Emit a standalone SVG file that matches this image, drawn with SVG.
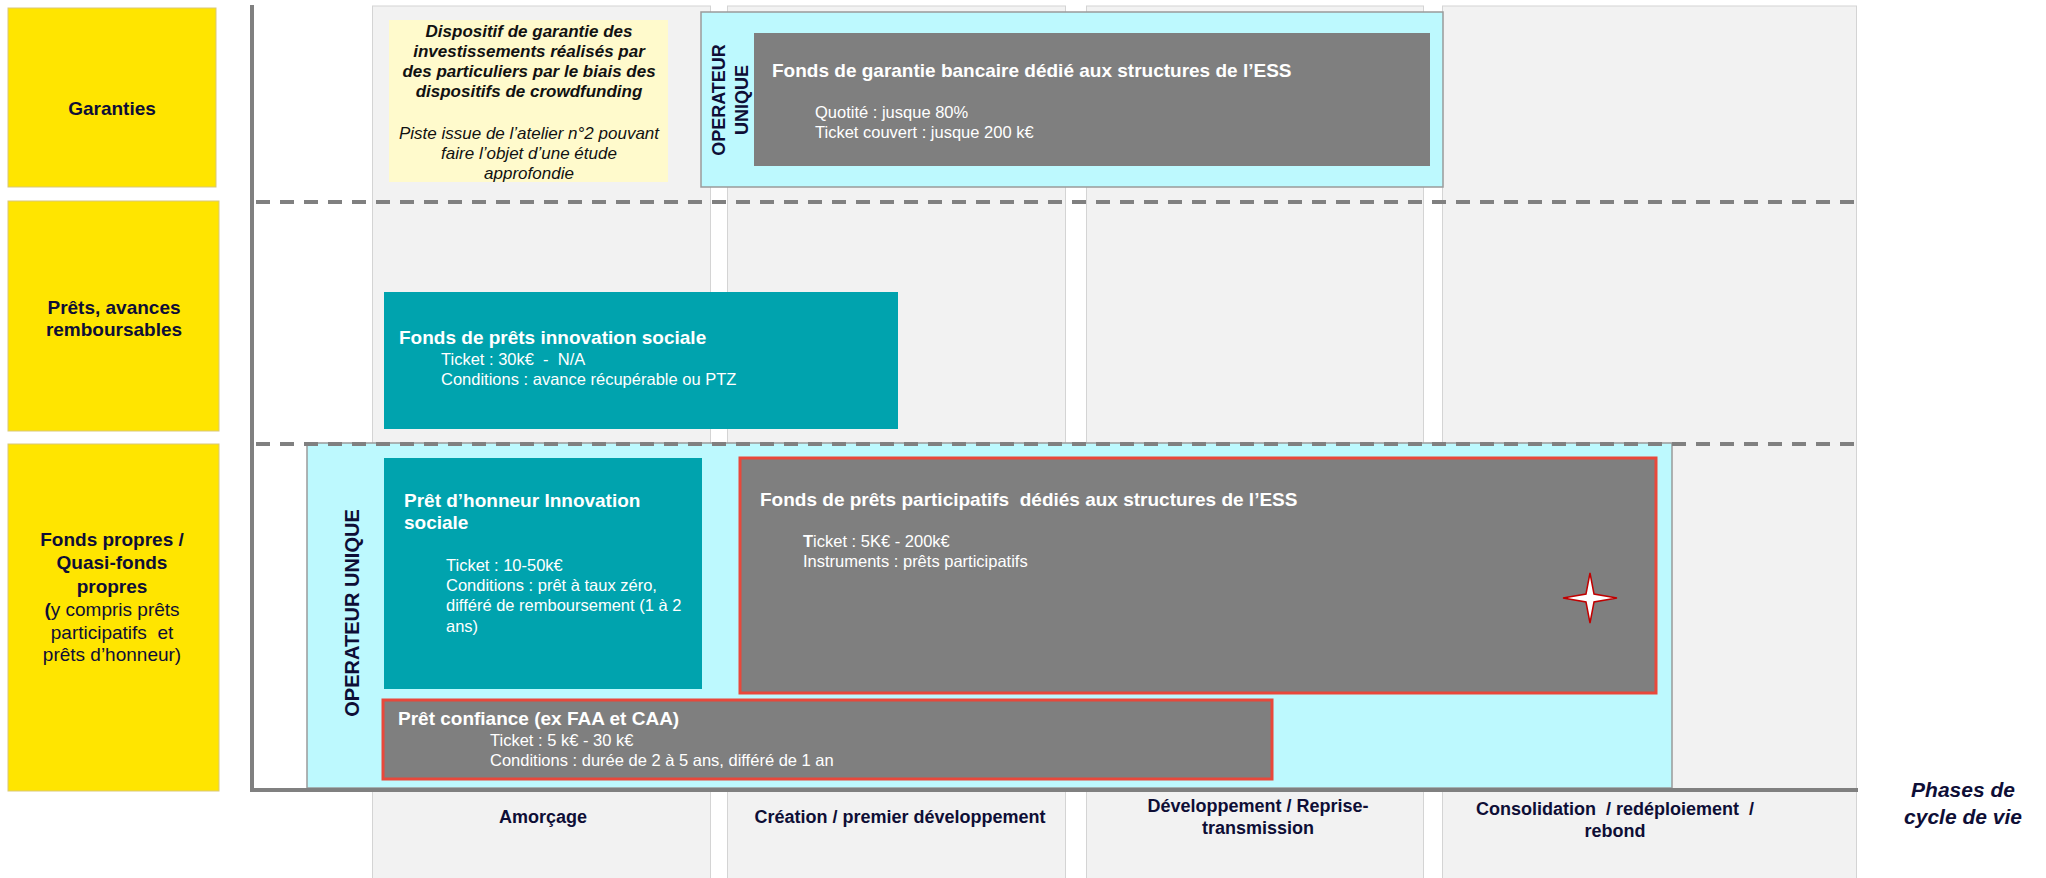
<svg xmlns="http://www.w3.org/2000/svg" width="2046" height="878" viewBox="0 0 2046 878">
<style>
text{font-family:"Liberation Sans",Arial,sans-serif}
.pre{white-space:pre}
.col{fill:#F2F2F2;stroke:#D4D4D4;stroke-width:1}
.cat{fill:#FFE500;stroke:#D9C77A;stroke-width:1}
.catt{font-size:19px;font-weight:bold;fill:#0E0E36;text-anchor:middle}
.catr{font-size:19px;fill:#0E0E36;text-anchor:middle}
.phase{font-size:18px;font-weight:bold;fill:#0E0E36;text-anchor:middle}
.cyan{fill:#BDF9FE;stroke:#9A9A9A;stroke-width:1.5}
.grey{fill:#7F7F7F}
.greyred{fill:#7F7F7F;stroke:#E8483B;stroke-width:3}
.teal{fill:#00A3AE}
.ttl{font-size:19px;font-weight:bold;fill:#FFFFFF}
.body{font-size:16.5px;fill:#FFFFFF}
.op{font-weight:bold;fill:#0E0E36;text-anchor:middle}
.note{fill:#FFFACC}
.nb{font-size:17px;font-weight:bold;font-style:italic;fill:#111111;text-anchor:middle}
.ni{font-size:17px;font-style:italic;fill:#111111;text-anchor:middle}
.dash{stroke:#808080;stroke-width:4;stroke-dasharray:14 10;fill:none}
.axis{stroke:#808080;stroke-width:4;fill:none}
</style>

<g id="columns">
  <rect class="col" x="372.5" y="6" width="338" height="880"/>
  <rect class="col" x="727.5" y="6" width="338" height="880"/>
  <rect class="col" x="1086.5" y="6" width="337" height="880"/>
  <rect class="col" x="1442.5" y="6" width="414" height="880"/>
</g>

<g id="cat-garanties">
  <rect class="cat" x="8" y="8" width="208" height="179"/>
  <text class="catt" x="112" y="115">Garanties</text>
</g>
<g id="cat-prets">
  <rect class="cat" x="8" y="201" width="211" height="230"/>
  <text class="catt" x="114" y="314">Prêts, avances</text>
  <text class="catt" x="114" y="336">remboursables</text>
</g>
<g id="cat-fonds-propres">
  <rect class="cat" x="8" y="444" width="211" height="347"/>
  <text class="catt" x="112" y="546">Fonds propres /</text>
  <text class="catt" x="112" y="569">Quasi-fonds</text>
  <text class="catt" x="112" y="593">propres</text>
  <text class="catr" x="112" y="616"><tspan font-weight="bold">(</tspan>y compris prêts</text>
  <text class="catr pre" x="112" y="639" xml:space="preserve">participatifs  et</text>
  <text class="catr" x="112" y="661">prêts d’honneur)</text>
</g>

<g id="note-crowdfunding">
  <rect class="note" x="389" y="20" width="279" height="162"/>
  <text class="nb" x="529" y="37">Dispositif de garantie des</text>
  <text class="nb" x="529" y="57">investissements réalisés par</text>
  <text class="nb" x="529" y="77">des particuliers par le biais des</text>
  <text class="nb" x="529" y="97">dispositifs de crowdfunding</text>
  <text class="ni" x="529" y="139">Piste issue de l’atelier n°2 pouvant</text>
  <text class="ni" x="529" y="159">faire l’objet d’une étude</text>
  <text class="ni" x="529" y="179">approfondie</text>
</g>

<g id="operateur-garantie">
  <rect class="cyan" x="701" y="12" width="742" height="175"/>
  <text class="op" font-size="18" transform="translate(725,100) rotate(-90)">OPERATEUR</text>
  <text class="op" font-size="18" transform="translate(748,100) rotate(-90)">UNIQUE</text>
</g>
<g id="fonds-garantie">
  <rect class="grey" x="754" y="33" width="676" height="133"/>
  <text class="ttl" x="772" y="77">Fonds de garantie bancaire dédié aux structures de l’ESS</text>
  <text class="body" x="815" y="118">Quotité : jusque 80%</text>
  <text class="body" x="815" y="138">Ticket couvert : jusque 200 k€</text>
</g>

<g id="fonds-prets-innovation">
  <rect class="teal" x="384" y="292" width="514" height="137"/>
  <text class="ttl" x="399" y="344">Fonds de prêts innovation sociale</text>
  <text class="body pre" x="441" y="365" xml:space="preserve">Ticket : 30k€  -  N/A</text>
  <text class="body" x="441" y="385">Conditions : avance récupérable ou PTZ</text>
</g>

<g id="operateur-fonds-propres">
  <rect class="cyan" x="307" y="443" width="1365" height="345"/>
  <text class="op" font-size="20" transform="translate(359,613) rotate(-90)">OPERATEUR UNIQUE</text>
</g>

<g id="axes">
  <line class="dash" x1="256" y1="202" x2="1856" y2="202"/>
  <line class="dash" x1="256" y1="444" x2="1856" y2="444"/>
  <line class="axis" x1="252" y1="5" x2="252" y2="790"/>
  <line class="axis" x1="250" y1="790" x2="1858" y2="790"/>
</g>

<g id="pret-honneur">
  <rect class="teal" x="384" y="458" width="318" height="231"/>
  <text class="ttl" x="404" y="507">Prêt d’honneur Innovation</text>
  <text class="ttl" x="404" y="529">sociale</text>
  <text class="body" x="446" y="571">Ticket : 10-50k€</text>
  <text class="body" x="446" y="591">Conditions : prêt à taux zéro,</text>
  <text class="body" x="446" y="611">différé de remboursement (1 à 2</text>
  <text class="body" x="446" y="632">ans)</text>
</g>

<g id="fonds-prets-participatifs">
  <rect class="greyred" x="740" y="458" width="916" height="235"/>
  <text class="ttl pre" x="760" y="506" xml:space="preserve">Fonds de prêts participatifs  dédiés aux structures de l’ESS</text>
  <text class="body" x="803" y="547"><tspan font-weight="bold">T</tspan>icket : 5K€ - 200k€</text>
  <text class="body" x="803" y="567">Instruments : prêts participatifs</text>
  <path d="M1590,573 L1594,594 L1617,598 L1594,602 L1590,623 L1586,602 L1563,598 L1586,594 Z" fill="#FFFFFF" stroke="#C00000" stroke-width="1.5" stroke-linejoin="miter"/>
</g>

<g id="pret-confiance">
  <rect class="greyred" x="383" y="700" width="889" height="79"/>
  <text class="ttl" x="398" y="725">Prêt confiance (ex FAA et CAA)</text>
  <text class="body" x="490" y="746">Ticket : 5 k€ - 30 k€</text>
  <text class="body" x="490" y="766">Conditions : durée de 2 à 5 ans, différé de 1 an</text>
</g>

<g id="phase-labels">
  <text class="phase" x="543" y="823">Amorçage</text>
  <text class="phase" x="900" y="823">Création / premier développement</text>
  <text class="phase" x="1258" y="812">Développement / Reprise-</text>
  <text class="phase" x="1258" y="834">transmission</text>
  <text class="phase pre" x="1615" y="815" xml:space="preserve">Consolidation  / redéploiement  /</text>
  <text class="phase" x="1615" y="837">rebond</text>
</g>

<g id="axis-title">
  <text x="1963" y="797" font-size="21" font-weight="bold" font-style="italic" fill="#0E0E36" text-anchor="middle">Phases de</text>
  <text x="1963" y="824" font-size="21" font-weight="bold" font-style="italic" fill="#0E0E36" text-anchor="middle">cycle de vie</text>
</g>

<g id="connectors"></g>
</svg>
